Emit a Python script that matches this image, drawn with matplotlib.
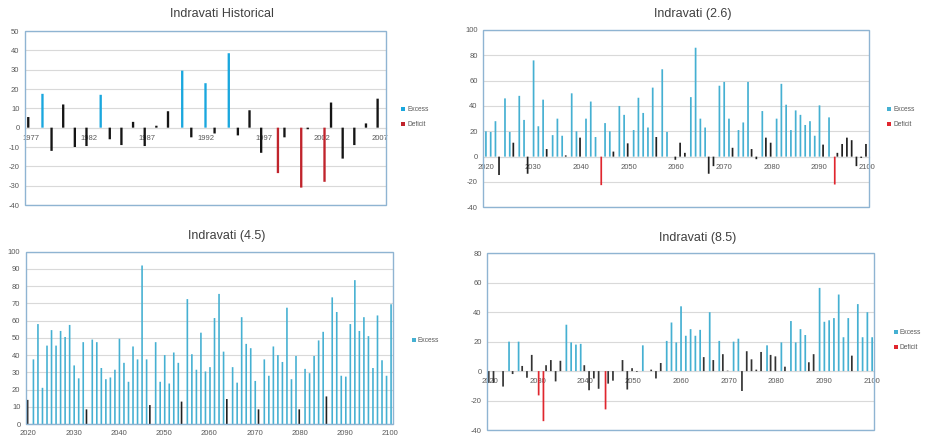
import matplotlib
matplotlib.use("Agg")
import matplotlib.pyplot as plt
from matplotlib.patches import Rectangle

plt.rcParams['font.family'] = ['Liberation Sans', 'DejaVu Sans']

# ---------------- data ----------------
hist_years = list(range(1977, 2008))
hist_values = [5.5, 17.5, -12, 12, -10, -9.5, 17, -6, -9, 3,
               -9.5, 1, 8.5, 29.5, -5, 23, -3, 38.5, -4, 9,
               -13, -23.5, -5, -31, -0.8, -28, 13, -16, -9, 2.2, 15]
hist_types = "NENNNNENNNNNNENENENNNDNDNDNNNNN"

rcp_years = list(range(2020, 2101))

rcp26_values = [20, 19.5, 28, -14.5, 46, 19.5, 11, 48, 29, -13.5,
                76, 24, 45, 6, 17, 30, 16.5, 1, 50, 20,
                15, 30, 43.5, 15.5, -22.5, 26.5, 20, 4, 40, 33,
                10.5, 21, 46.5, 34.5, 23, 54.5, 15.5, 69, 19.5, 0,
                -2.5, 11, 3, 47, 86, 30, 23, -13.5, -7.5, 56,
                59, 30, 7, 21, 27, 59, 6, -2, 36, 15,
                11, 30, 57.5, 41, 21, 36.5, 33, 25, 28, 16.5,
                40.5, 9.5, 31, -22, 3, 10, 15, 13, -7.5, -1,
                10]
rcp26_types = ("EEENEENEEN" "EEENEEENEE" "NEEEDEENEE" "NEEEEENEEN"
               "NNNEEEENNE" "EENEEENNEN" "NEEEEEEEEE" "ENEDNNNNNN" "N")

rcp45_values = [14, 37.5, 58, 21, 45.5, 54.5, 45.5, 54, 50.5, 57.5,
                34, 26.5, 47.5, 8.5, 49, 47.5, 32.5, 26, 27, 31.5,
                49.5, 35.5, 24.5, 45, 37.5, 92, 37.5, 11, 47.5, 24.5,
                40, 23.5, 41.5, 35.5, 13, 72.5, 40.5, 31.5, 53, 30.5,
                33, 61.5, 75.5, 42, 14.5, 33, 24, 62, 46.5, 44,
                25, 8.5, 37.5, 28, 45, 40, 36, 67.5, 26, 39.5,
                8.5, 32, 29.5, 39.5, 48.5, 53.5, 16, 73.5, 65, 28,
                27.5, 58, 83.5, 54, 62, 51, 32.5, 63, 37, 28,
                69.5]
rcp45_types = ("NEEEEEEEEE" "EEENEEEEEE" "EEEEEEENEE" "EEEENEEEEE"
               "EEEENEEEEE" "ENEEEEEEEE" "NEEEEENEEE" "EEEEEEEEEE" "E")

rcp85_values = [-8, -8, 0, -10.5, 20, -2, 20, 3.5, -4.5, 11,
                -16.5, -34, 4, 7.5, -7, 7, 31.5, 19.5, 18, 18.5,
                4, -13, -5, -12, -26, -8.5, -6.5, 0, 7.5, -12.5,
                2, -0.5, 17.5, 0, 1, -5, 5.5, 20.5, 33, 19.5,
                44, 24, 28.5, 24, 28, 9.5, 40, 7.5, 20.5, 11.5,
                0.3, 20, 22, -13.5, 13.5, 8, 1, 13, 17.5, 11,
                10, 19.5, 3, 34, 19.5, 28.5, 24.5, 6, 11.5, 56.5,
                33.5, 34.5, 36, 52, 23, 36, 10.5, 45.5, 23, 40,
                23]
rcp85_types = ("NNNNENENNN" "DDNNNNEEEE" "NNNNDNNNNN" "NNENNNNEEE"
               "EEEEENENEN" "NEENNNNNEN" "NENEEEENNE" "EEEEEENEEE" "E")

type_labels = {"E": "Excess", "D": "Deficit", "N": None}

# ---------------- styling ----------------
GRID = "#d9d9d9"
FRAME = "#8fb4d2"
TICKC = "#595959"

fig = plt.figure(figsize=(9.31, 4.36), dpi=100)
W, H = 931.0, 436.0


def make_ax(l, t, r, b):
    return fig.add_axes([l / W, 1 - b / H, (r - l) / W, (b - t) / H])


def panel(ax, years, values, types, colors, offsets, width, ylim, ystep,
          xstep, title, title_xy, legend_keys, legend_xy, label_pad):
    n = len(years)
    for key in ["N", "E", "D"]:
        idx = [i for i in range(n) if types[i] == key]
        xs = [i + offsets[key] for i in idx]
        hs = [values[i] for i in idx]
        lbl = type_labels[key] if key in legend_keys else None
        bars = ax.bar(xs, hs, width=width, color=colors[key], label=lbl,
                      zorder=3, linewidth=0)
        for b in bars:
            b.set_snap(False)
    ax.set_xlim(-0.5, n - 0.5)
    ax.set_ylim(*ylim)
    yt = list(range(ylim[0], ylim[1] + 1, ystep))
    ax.set_yticks(yt)
    ax.set_yticklabels([str(v) for v in yt])
    ax.yaxis.grid(True, color=GRID, linewidth=0.8, zorder=0)
    ax.set_axisbelow(True)
    xt = [i for i in range(n) if (years[i] - years[0]) % xstep == 0]
    ax.set_xticks(xt)
    ax.set_xticklabels([str(years[i]) for i in xt])
    for s in ["top", "left", "right"]:
        ax.spines[s].set_visible(False)
    ax.spines["bottom"].set_position(("data", 0))
    ax.spines["bottom"].set_color(GRID)
    ax.spines["bottom"].set_linewidth(0.8)
    ax.tick_params(axis="both", length=0, labelsize=5.5, colors=TICKC)
    ax.tick_params(axis="x", pad=label_pad)
    ax.tick_params(axis="y", pad=4)
    ax.add_patch(Rectangle((0, 0), 1, 1, transform=ax.transAxes, fill=False,
                           edgecolor=FRAME, linewidth=1.0, clip_on=False,
                           zorder=5))
    fig.text(title_xy[0] / W, 1 - title_xy[1] / H, title, ha="center",
             va="center", fontsize=9, color="#404040")
    leg = ax.legend(loc="upper left",
                    bbox_to_anchor=(legend_xy[0] / W, 1 - legend_xy[1] / H),
                    bbox_transform=fig.transFigure, frameon=False,
                    fontsize=4.8, handlelength=0.55, handleheight=0.55,
                    handletextpad=0.35, labelspacing=1.2, borderpad=0,
                    borderaxespad=0)
    for t in leg.get_texts():
        t.set_color(TICKC)


ax1 = make_ax(25, 31, 386, 205)
panel(ax1, hist_years, hist_values, hist_types,
      {"E": "#1aa7de", "D": "#c0242c", "N": "#151515"},
      {"N": -0.22, "E": 0.0, "D": 0.22}, 0.2, (-40, 50), 10, 5,
      "Indravati Historical", (222, 14), ["E", "D"], (401, 106), 5)

ax2 = make_ax(483.3, 30, 869.3, 207.3)
panel(ax2, rcp_years, rcp26_values, rcp26_types,
      {"E": "#45b0d2", "D": "#e0262e", "N": "#202020"},
      {"N": -0.2, "E": 0.05, "D": 0.25}, 0.36, (-40, 100), 20, 10,
      "Indravati (2.6)", (693, 14), ["E", "D"], (887, 106), 5)

ax3 = make_ax(26, 251.7, 392.7, 424)
panel(ax3, rcp_years, rcp45_values, rcp45_types,
      {"E": "#45b0d2", "D": "#e0262e", "N": "#202020"},
      {"N": -0.14, "E": 0.14, "D": 0.3}, 0.36, (0, 100), 10, 10,
      "Indravati (4.5)", (227, 236), ["E"], (412, 337), 4)

ax4 = make_ax(487.3, 253.3, 874.3, 430)
panel(ax4, rcp_years, rcp85_values, rcp85_types,
      {"E": "#45b0d2", "D": "#e0262e", "N": "#333333"},
      {"N": -0.2, "E": 0.05, "D": 0.25}, 0.36, (-40, 80), 20, 10,
      "Indravati (8.5)", (698, 238), ["E", "D"], (894, 329), 5)

fig.savefig("out.png", dpi=100)
